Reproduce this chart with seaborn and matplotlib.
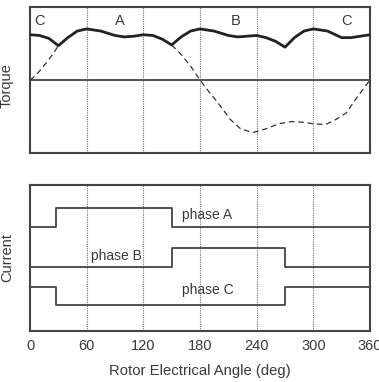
import matplotlib
matplotlib.use("Agg")
import matplotlib.pyplot as plt
import seaborn as sns
import pandas as pd
import numpy as np

# ---- data ----
# resultant torque (solid)
torque_angle = [0, 10, 20, 30, 40, 50, 60, 75, 90, 100, 110, 120, 130, 140, 150,
                160, 170, 180, 195, 210, 220, 230, 240, 250, 260, 270, 280, 290,
                300, 315, 330, 340, 350, 360]
torque_total = [0.62, 0.61, 0.57, 0.47, 0.58, 0.67, 0.70, 0.67, 0.61, 0.59, 0.60,
                0.62, 0.61, 0.56, 0.48, 0.59, 0.67, 0.70, 0.67, 0.61, 0.59, 0.60,
                0.61, 0.58, 0.53, 0.45, 0.58, 0.67, 0.70, 0.67, 0.58, 0.58, 0.60, 0.62]
# single phase torque (dashed), two visible segments
phase_seg1_angle = [0, 5, 10, 15, 20, 25, 30]
phase_seg1_value = [0.0, 0.05, 0.12, 0.20, 0.28, 0.37, 0.47]
phase_seg2_angle = [150, 160, 170, 180, 190, 200, 212, 223, 236, 252, 263, 277,
                    290, 300, 313, 324, 335, 345, 360]
phase_seg2_value = [0.48, 0.35, 0.19, 0.0, -0.17, -0.33, -0.54, -0.67, -0.72,
                    -0.66, -0.60, -0.57, -0.58, -0.60, -0.61, -0.54, -0.45, -0.26, 0.0]

# phase currents (step waveforms)
step_angle = [0, 27, 150, 270, 360]
current_A = [0.715, 0.845, 0.715, 0.715, 0.715]
current_B = [0.44, 0.44, 0.571, 0.44, 0.44]
current_C = [0.303, 0.178, 0.178, 0.303, 0.303]

tick_angles = [0, 60, 120, 180, 240, 300, 360]
sector_labels = ["C", "A", "B", "C"]
sector_pos = [10, 95, 218, 335]
phase_labels = ["phase A", "phase B", "phase C"]
phase_label_pos = [(187, 0.795), (92, 0.516), (188, 0.281)]

# ---- style ----
sns.set_theme(style="white")
plt.rcParams['font.family'] = ['Liberation Sans', 'DejaVu Sans']
TXT = "#3a3a3a"
SP = "#444444"

fig = plt.figure(figsize=(3.79, 3.82), dpi=100)
ax1 = fig.add_axes([0.0792, 0.5995, 0.8971, 0.3822])
ax2 = fig.add_axes([0.0792, 0.1335, 0.8971, 0.3822])

df_tot = pd.DataFrame({"angle": torque_angle, "torque": torque_total})
df_ph = pd.DataFrame({
    "angle": phase_seg1_angle + phase_seg2_angle,
    "torque": phase_seg1_value + phase_seg2_value,
    "seg": [1] * len(phase_seg1_angle) + [2] * len(phase_seg2_angle),
})

for ax in (ax1, ax2):
    ax.set_xlim(0, 360)
    ax.set_xticks(tick_angles)
    ax.set_yticks([])
    for x in tick_angles[1:-1]:
        ax.axvline(x, color="#777777", lw=0.8, ls=(0, (1, 1)), zorder=1)
    for s in ax.spines.values():
        s.set_color(SP)
        s.set_linewidth(1.5)
        s.set_visible(True)
    ax.tick_params(axis="x", length=0, colors=TXT, labelsize=10.5, pad=6)

ax1.set_ylim(-1, 1)
ax1.axhline(0, color=SP, lw=1.3, zorder=2)
sns.lineplot(data=df_ph, x="angle", y="torque", units="seg", estimator=None,
             sort=False, ax=ax1, color="#333333", lw=0.9, dashes=False,
             linestyle=(0, (4.5, 3)), legend=False, zorder=3)
sns.lineplot(data=df_tot, x="angle", y="torque", estimator=None, sort=False,
             ax=ax1, color="#222222", lw=2.0, legend=False, zorder=4)
for lab, x in zip(sector_labels, sector_pos):
    ax1.text(x, 0.81, lab, ha="center", va="center", fontsize=10.5, color=TXT)
ax1.set_xticklabels([])
ax1.set_xlabel("")
ax1.set_ylabel("")

ax2.set_ylim(0, 1)
df_cur = pd.DataFrame({
    "angle": step_angle * 3,
    "current": current_A + current_B + current_C,
    "phase": ["A"] * 5 + ["B"] * 5 + ["C"] * 5,
})
for ph in ["A", "B", "C"]:
    sns.lineplot(data=df_cur[df_cur.phase == ph], x="angle", y="current",
                 estimator=None, sort=False, ax=ax2, color="#444444", lw=1.3,
                 drawstyle="steps-post", legend=False, zorder=3)
for lab, (x, y) in zip(phase_labels, phase_label_pos):
    ax2.text(x, y, lab, ha="center", va="center", fontsize=10, color=TXT)
ax2.set_xticklabels([str(t) for t in tick_angles])
ax2.set_xlabel("Rotor Electrical Angle (deg)", fontsize=10.7, color=TXT, labelpad=8)
ax2.set_ylabel("")

fig.text(7 / 379, 1 - 86 / 382, "Torque", rotation=90, ha="center", va="center",
         fontsize=10.5, color=TXT)
fig.text(7 / 379, 1 - 258 / 382, "Current", rotation=90, ha="center", va="center",
         fontsize=10.5, color=TXT)

fig.savefig("out.png", dpi=100)
